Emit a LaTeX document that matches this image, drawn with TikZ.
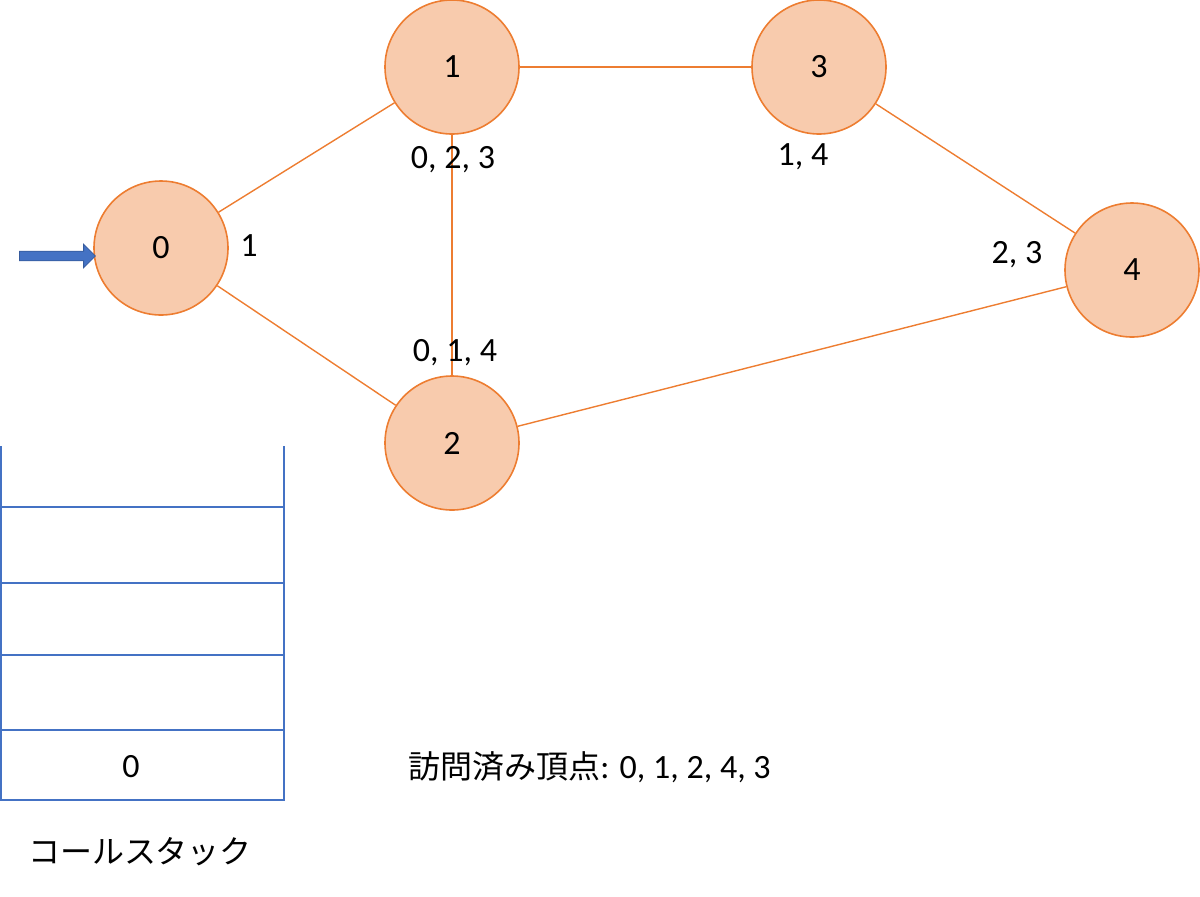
\documentclass[tikz,border=0pt]{standalone}
\usepackage{fontspec}
\setmainfont{Carlito}
\newfontfamily\cjk{Noto Sans CJK JP}
\usetikzlibrary{shapes.arrows}
\definecolor{vfill}{HTML}{F8CBAD}
\definecolor{vline}{HTML}{ED7D31}
\definecolor{sblue}{HTML}{4472C4}
\begin{document}
\begin{tikzpicture}[x=0.5pt,y=-0.5pt,
  vtx/.style={circle,draw=vline,fill=vfill,line width=0.8pt,minimum size=67pt,inner sep=0pt,font=\fontsize{17}{20}\selectfont},
  edge/.style={draw=vline,line width=0.7pt},
  lbl/.style={font=\fontsize{17}{20}\selectfont},
  stk/.style={draw=sblue,line width=0.9pt}]
\useasboundingbox (0,0) rectangle (1200,896);
% graph
\node[vtx] (v0) at (161,248) {0};
\node[vtx] (v1) at (452,67) {1};
\node[vtx] (v3) at (819,67) {3};
\node[vtx] (v4) at (1132,270) {4};
\node[vtx] (v2) at (452,443) {2};
\draw[edge] (v0) -- (v1);
\draw[edge] (v0) -- (v2);
\draw[edge] (v1) -- (v3);
\draw[edge] (v1) -- (v2);
\draw[edge] (v3) -- (v4);
\draw[edge] (v2) -- (v4);
% adjacency labels
\node[lbl] (a0) at (249,246) {1};
\node[lbl] (a1) at (453,160) {0, 2, 3};
\node[lbl] (a3) at (803,157) {1, 4};
\node[lbl] (a4) at (1017,255) {2, 3};
\node[lbl] (a2) at (455,353) {0, 1, 4};
% start arrow
\node[single arrow,draw=sblue!80!black,fill=sblue,minimum height=38pt,inner sep=2.2pt,single arrow head extend=3.5pt,single arrow head indent=0pt] (start) at (55,256) {};
% call stack
\coordinate (sl) at (1,446);
\coordinate (sr) at (284,446);
\draw[stk] (sl) -- (1,800) -- (284,800) -- (sr);
\foreach \y in {507,583,655,730}
  \draw[stk] (1,\y) -- (284,\y);
\node[lbl] (s0) at (131,767) {0};
\node[lbl,font=\cjk\fontsize{16}{20}\selectfont] (stack) at (140,852) {コールスタック};
\node[lbl,anchor=west,inner sep=0pt] (visited) at (408,767) {{\cjk\fontsize{16}{20}\selectfont 訪問済み頂点}: 0, 1, 2, 4, 3};
\end{tikzpicture}
\end{document}
